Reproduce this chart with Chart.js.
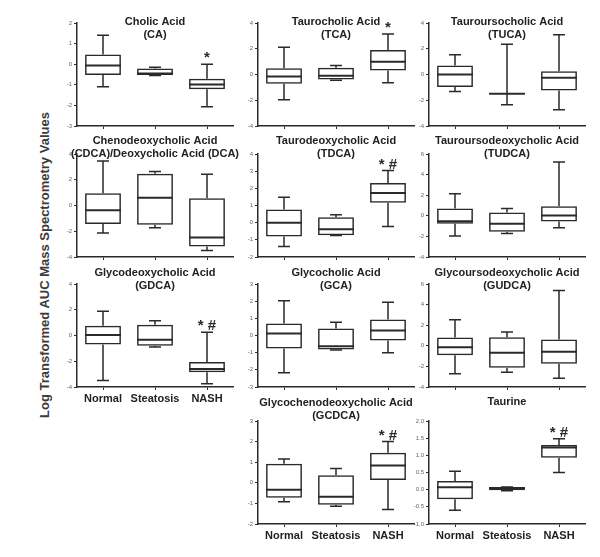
<!DOCTYPE html>
<html>
<head>
<meta charset="UTF-8">
<title>Bile acid box plots</title>
<script src="https://cdn.jsdelivr.net/npm/chart.js@4.4.0/dist/chart.umd.min.js"></script>
<style>
  body { margin: 0; background: #fff; }
  #wrap { position: relative; width: 600px; height: 557px; overflow: hidden; }
  #wrap canvas { position: absolute; }
  #ytitle {
    position: absolute; left: 44px; top: 265px;
    transform: translate(-50%, -50%) rotate(-90deg);
    white-space: nowrap; color: #3a3a3a;
    font: bold 13px "Liberation Sans", Arial, sans-serif;
  }
</style>
</head>
<body>
<div id="wrap"><div id="ytitle">Log Transformed AUC Mass Spectrometry Values</div></div>
<script>
var GROUPS = ['Normal', 'Steatosis', 'NASH'];

// five-number summaries per group, in GROUPS order: [min, q1, median, q3, max]
var CA    = [[-1.10, -0.52, -0.06, 0.47, 1.40], [-0.55, -0.53, -0.45, -0.21, -0.15], [-2.06, -1.22, -0.98, -0.71, 0.00]];
var TCA   = [[-1.96, -0.72, -0.16, 0.49, 2.12], [-0.45, -0.39, -0.10, 0.52, 0.70], [-0.65, 0.31, 1.00, 1.91, 3.15]];
var TUCA  = [[-1.32, -0.98, 0.00, 0.70, 1.53], [-2.35, -1.50, -1.50, -1.50, 2.35], [-2.74, -1.24, -0.26, 0.26, 3.08]];
var CDCA  = [[-2.14, -1.44, -0.36, 0.96, 3.46], [-1.73, -1.50, 0.60, 2.46, 2.64], [-3.49, -3.18, -2.48, 0.57, 2.43]];
var TDCA  = [[-1.39, -0.81, 0.00, 0.77, 1.48], [-0.75, -0.73, -0.39, 0.31, 0.46], [-0.23, 1.16, 1.73, 2.31, 3.04]];
var TUDCA = [[-1.96, -0.77, -0.52, 0.70, 2.14], [-1.73, -1.54, -0.77, 0.32, 0.70], [-1.15, -0.55, 0.03, 0.92, 5.22]];
var GDCA  = [[-3.49, -0.70, 0.03, 0.75, 1.89], [-0.90, -0.80, -0.33, 0.83, 1.14], [-3.74, -2.86, -2.60, -2.06, 0.26]];
var GCA   = [[-2.17, -0.76, 0.12, 0.70, 2.03], [-0.85, -0.81, -0.62, 0.41, 0.77], [-1.00, -0.29, 0.29, 0.93, 1.94]];
var GUDCA = [[-2.71, -0.91, -0.13, 0.80, 2.54], [-2.58, -2.13, -0.68, 0.83, 1.35], [-3.16, -1.74, -0.58, 0.61, 5.37]];
var GCDCA = [[-0.92, -0.72, -0.34, 0.92, 1.16], [-1.14, -1.06, -0.68, 0.37, 0.69], [-1.30, 0.14, 0.84, 1.46, 2.00]];
var TAURINE = [[-0.60, -0.28, 0.07, 0.25, 0.54], [-0.03, -0.02, 0.05, 0.07, 0.08], [0.50, 0.93, 1.23, 1.30, 1.48]];

// y ticks: [min, max, step, decimals]
var TICKS_CA = [-3, 2, 1, 0];
var TICKS_4 = [-4, 4, 2, 0];
var TICKS_TDCA = [-2, 4, 1, 0];
var TICKS_6 = [-4, 6, 2, 0];
var TICKS_GCA = [-3, 3, 1, 0];
var TICKS_GCDCA = [-2, 3, 1, 0];
var TICKS_TAURINE = [-1, 2, 0.5, 1];

// significance marks over the NASH box
var MARK_STAR = '*';
var MARK_BOTH = '* #';

var COL_X = [77, 258, 429];
var ROW_TOP = [23, 154, 284, 421];
var ROW_BOTTOM = [126, 257, 387, 524];
var PLOT_W = 156;

var panels = [
  { col: 0, row: 0, stats: CA, ticks: TICKS_CA, title: ['Cholic Acid', '(CA)'], titleY: -1, mark: MARK_STAR },
  { col: 1, row: 0, stats: TCA, ticks: TICKS_4, title: ['Taurocholic Acid', '(TCA)'], titleY: -1, mark: MARK_STAR },
  { col: 2, row: 0, stats: TUCA, ticks: TICKS_4, title: ['Tauroursocholic Acid', '(TUCA)'], titleY: -1 },
  { col: 0, row: 1, stats: CDCA, ticks: TICKS_4, title: ['Chenodeoxycholic Acid', '(CDCA)/Deoxycholic Acid (DCA)'], titleY: -13 },
  { col: 1, row: 1, stats: TDCA, ticks: TICKS_TDCA, title: ['Taurodeoxycholic Acid', '(TDCA)'], titleY: -13, mark: MARK_BOTH },
  { col: 2, row: 1, stats: TUDCA, ticks: TICKS_6, title: ['Tauroursodeoxycholic Acid', '(TUDCA)'], titleY: -13 },
  { col: 0, row: 2, stats: GDCA, ticks: TICKS_4, title: ['Glycodeoxycholic Acid', '(GDCA)'], titleY: -11, mark: MARK_BOTH, labels: true },
  { col: 1, row: 2, stats: GCA, ticks: TICKS_GCA, title: ['Glycocholic Acid', '(GCA)'], titleY: -11 },
  { col: 2, row: 2, stats: GUDCA, ticks: TICKS_6, title: ['Glycoursodeoxycholic Acid', '(GUDCA)'], titleY: -11 },
  { col: 1, row: 3, stats: GCDCA, ticks: TICKS_GCDCA, title: ['Glycochenodeoxycholic Acid', '(GCDCA)'], titleY: -18, mark: MARK_BOTH, labels: true },
  { col: 2, row: 3, stats: TAURINE, ticks: TICKS_TAURINE, title: ['Taurine'], titleY: -19, mark: MARK_BOTH, labels: true }
];

var INK = '#2a2a2a';
var FONT = '"Liberation Sans", Arial, sans-serif';
var PAD_TOP = 30, PAD_LEFT = 10, PAD_RIGHT = 20, Y_W = 30, X_H = 22;

function makePanel(p) {
  var wrap = document.getElementById('wrap');
  var canv = document.createElement('canvas');
  var plotH = ROW_BOTTOM[p.row] - ROW_TOP[p.row];
  canv.width = PAD_LEFT + Y_W + PLOT_W + PAD_RIGHT;
  canv.height = PAD_TOP + plotH + X_H;
  canv.style.left = (COL_X[p.col] - Y_W - PAD_LEFT) + 'px';
  canv.style.top = (ROW_TOP[p.row] - PAD_TOP) + 'px';
  wrap.appendChild(canv);

  // whiskers, caps, medians, titles and marks drawn on top of the floating bars
  var boxPlugin = {
    id: 'boxes',
    afterDatasetsDraw: function(chart) {
      var ctx = chart.ctx, y = chart.scales.y, meta = chart.getDatasetMeta(0);
      ctx.save();
      ctx.strokeStyle = INK;
      p.stats.forEach(function(s, i) {
        var bar = meta.data[i], x = bar.x, hw = bar.width / 2, cap = 6;
        var yMin = y.getPixelForValue(s[0]), yQ1 = y.getPixelForValue(s[1]);
        var yMed = y.getPixelForValue(s[2]), yQ3 = y.getPixelForValue(s[3]);
        var yMax = y.getPixelForValue(s[4]);
        ctx.lineWidth = 1.5;
        ctx.beginPath();
        ctx.moveTo(x, yQ3); ctx.lineTo(x, yMax);
        ctx.moveTo(x - cap, yMax); ctx.lineTo(x + cap, yMax);
        ctx.moveTo(x, yQ1); ctx.lineTo(x, yMin);
        ctx.moveTo(x - cap, yMin); ctx.lineTo(x + cap, yMin);
        ctx.stroke();
        ctx.lineWidth = 2;
        ctx.beginPath();
        ctx.moveTo(x - hw, yMed); ctx.lineTo(x + hw, yMed);
        ctx.stroke();
        if (i === 2 && p.mark) {
          ctx.fillStyle = INK;
          ctx.font = 'bold 15px ' + FONT;
          ctx.textAlign = 'center';
          ctx.textBaseline = 'middle';
          ctx.fillText(p.mark, x, yMax - 6);
        }
      });
      var ca = chart.chartArea;
      ctx.fillStyle = '#222';
      ctx.font = 'bold 11px ' + FONT;
      ctx.textAlign = 'center';
      ctx.textBaseline = 'middle';
      p.title.forEach(function(t, k) {
        ctx.fillText(t, (ca.left + ca.right) / 2, ca.top + p.titleY + k * 12.5);
      });
      ctx.restore();
    }
  };

  new Chart(canv, {
    type: 'bar',
    data: {
      labels: GROUPS,
      datasets: [{
        data: p.stats.map(function(s) { return [s[1], s[3]]; }),
        backgroundColor: 'rgba(0,0,0,0)',
        borderColor: INK,
        borderWidth: 1.5,
        borderSkipped: false,
        barPercentage: 0.69,
        categoryPercentage: 1
      }]
    },
    options: {
      responsive: false,
      animation: false,
      layout: { padding: { top: PAD_TOP, left: PAD_LEFT, right: PAD_RIGHT, bottom: 0 } },
      plugins: { legend: { display: false }, tooltip: { enabled: false } },
      scales: {
        x: {
          afterFit: function(s) { s.height = X_H; },
          border: { display: true, color: INK, width: 1.5 },
          grid: { display: true, drawOnChartArea: false, drawTicks: true, tickLength: 3, offset: false, color: INK, lineWidth: 1 },
          ticks: {
            padding: 2,
            autoSkip: false,
            maxRotation: 0,
            minRotation: 0,
            color: '#222',
            font: { family: FONT, size: 11, weight: 'bold' },
            callback: function(v, i) { return p.labels ? GROUPS[i] : ''; }
          }
        },
        y: {
          min: p.ticks[0],
          max: p.ticks[1],
          afterFit: function(s) { s.width = Y_W; },
          border: { display: true, color: INK, width: 1.5 },
          grid: { display: true, drawOnChartArea: false, drawTicks: true, tickLength: 3, color: INK, lineWidth: 1 },
          ticks: {
            stepSize: p.ticks[2],
            padding: 2,
            color: '#666',
            font: { family: FONT, size: 6 },
            callback: function(v) { return Number(v).toFixed(p.ticks[3]); }
          }
        }
      }
    },
    plugins: [boxPlugin]
  });
}

panels.forEach(makePanel);
</script>
</body>
</html>
